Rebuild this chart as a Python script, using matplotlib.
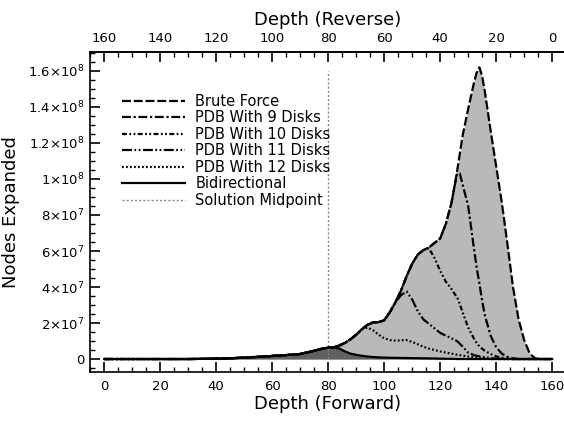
import numpy as np
import matplotlib
matplotlib.use("Agg")
import matplotlib.pyplot as plt
from matplotlib.ticker import MultipleLocator, FixedLocator, FuncFormatter

# search depth (forward)
depth = [0, 10, 20, 30, 40, 45, 50, 55, 60, 65, 70, 74, 78, 80, 82, 84, 86, 88, 90,
         92, 94, 96, 98, 100, 102, 104, 106, 108, 110, 112, 114, 116, 118, 120,
         122, 124, 125, 126, 127, 128, 130, 132, 133, 134, 135, 136, 138, 140, 142, 144, 146, 148,
         150, 152, 154, 156, 160]
reverse_ticks = [0, 20, 40, 60, 80, 100, 120, 140, 160]

# nodes expanded, in millions
brute_force = [0, 0, 0, 0, 0.2, 0.4, 0.8, 1.2, 1.7, 2.2, 2.8, 4.2, 5.8, 6.3, 6.5, 7.5, 9, 11, 13.5,
               16.5, 19, 20.3, 20.5, 21.5, 26, 31.5, 38, 46, 53, 58, 60.5, 62, 64.5, 67,
               75, 86.5, 95, 104, 114, 124, 139, 153, 159, 162, 157, 148, 127, 107, 87, 64, 40, 22,
               10.5, 3, 0.3, 0, 0]
pdb9 = [0, 0, 0, 0, 0.2, 0.4, 0.8, 1.2, 1.7, 2.2, 2.8, 4.2, 5.8, 6.3, 6.5, 7.5, 9, 11, 13.5,
        16.5, 19, 20.3, 20.5, 21.5, 26, 31.5, 38, 46, 53, 58, 60.5, 62, 64.5, 67,
        75, 86.5, 95, 103, 103, 97, 85, 62, 51, 42, 32, 24, 13, 6.5, 3, 1.2, 0.4, 0,
        0, 0, 0, 0, 0]
pdb10 = [0, 0, 0, 0, 0.2, 0.4, 0.8, 1.2, 1.7, 2.2, 2.8, 4.2, 5.8, 6.3, 6.5, 7.5, 9, 11, 13.5,
         16.5, 19, 20.3, 20.5, 21.5, 26, 31.5, 38, 46, 53, 58, 60.5, 61.5, 56, 49,
         43, 39, 36.5, 34.5, 30.5, 26, 17.5, 11.5, 9, 7, 5.7, 4.5, 2.8, 1.5, 0.7, 0.2, 0, 0,
         0, 0, 0, 0, 0]
pdb11 = [0, 0, 0, 0, 0.2, 0.4, 0.8, 1.2, 1.7, 2.2, 2.8, 4.2, 5.8, 6.3, 6.5, 7.5, 9, 11, 13.5,
         16.5, 19, 20.3, 20.5, 21.5, 26, 31.5, 35.5, 37.5, 33, 26.5, 22, 19.5, 17, 14.5,
         13, 11.5, 10.7, 10, 8.5, 7, 3.5, 2.2, 1.8, 1.5, 1.2, 1, 0.5, 0.2, 0, 0, 0, 0,
         0, 0, 0, 0, 0]
pdb12 = [0, 0, 0, 0, 0.2, 0.4, 0.8, 1.2, 1.7, 2.2, 2.8, 4.2, 5.8, 6.3, 6.5, 7.5, 9, 11, 13.5,
         16.5, 17.5, 16, 13.5, 11.5, 10.5, 10.2, 10.4, 10.5, 9.5, 8.2, 6.8, 5.8, 5, 4.2,
         3.6, 3, 2.7, 2.4, 2.15, 1.9, 1.4, 1, 0.8, 0.6, 0.45, 0.3, 0, 0, 0, 0, 0, 0,
         0, 0, 0, 0, 0]
bidirectional = [0, 0, 0, 0, 0.2, 0.4, 0.8, 1.2, 1.7, 2.2, 2.8, 4.2, 5.8, 6.3, 6.4, 5.8, 4.2, 3, 2.3,
                 1.8, 1.4, 1.1, 0.9, 0.8, 0.7, 0.65, 0.6, 0.55, 0.5, 0.45, 0.4, 0.35, 0.3, 0.2,
                 0.15, 0.1, 0.05, 0, 0, 0, 0, 0, 0, 0, 0, 0, 0, 0, 0, 0, 0, 0,
                 0, 0, 0, 0, 0]
midpoint = 80
midpoint_top = 160  # millions

M = 1e6
x = np.array(depth)

plt.rcParams["font.family"] = ["DejaVu Sans"]
fig = plt.figure(figsize=(5.64, 4.22), dpi=100)
ax = fig.add_axes([0.16, 0.1185, 0.8404, 0.759])

ax.fill_between(x, np.array(brute_force) * M, color="#b9b9b9", lw=0, zorder=1)
ax.fill_between(x, np.array(bidirectional) * M, color="#606060", lw=0, zorder=2)

lw = 1.6
style = dict(color="black", lw=lw, dash_joinstyle="round", solid_joinstyle="round", zorder=3)
ax.plot(x, np.array(brute_force) * M, dashes=(4, 1.3), label="Brute Force", **style)
ax.plot(x, np.array(pdb9) * M, dashes=(4, 1.2, 1, 1.2), label="PDB With 9 Disks", **style)
ax.plot(x, np.array(pdb10) * M, dashes=(2.2, 1.1, 0.8, 1.1, 0.8, 1.1), label="PDB With 10 Disks", **style)
ax.plot(x, np.array(pdb11) * M, dashes=(4.5, 1.1, 0.8, 1.1, 0.8, 1.1), label="PDB With 11 Disks", **style)
ax.plot(x, np.array(pdb12) * M, dashes=(0.8, 1.0), label="PDB With 12 Disks", **style)
ax.plot(x, np.array(bidirectional) * M, color="black", lw=lw, solid_joinstyle="round",
        label="Bidirectional", zorder=4)
ax.plot([midpoint, midpoint], [0, midpoint_top * M], color="#888888", lw=1.0, dashes=(1.5, 1.5),
        label="Solution Midpoint", zorder=2)

ax.set_xlim(-5, 164.3)
ax.set_ylim(-7.2e6, 1.707e8)

ax.xaxis.set_major_locator(MultipleLocator(20))
ax.xaxis.set_minor_locator(MultipleLocator(5))
ax.yaxis.set_major_locator(MultipleLocator(2e7))
ax.yaxis.set_minor_locator(MultipleLocator(5e6))


def sci(v, pos):
    if abs(v) < 1:
        return "0"
    e = int(np.floor(np.log10(abs(v))))
    m = v / 10 ** e
    ms = ("%.1f" % m).rstrip("0").rstrip(".")
    return r"$%s{\times}10^{%d}$" % (ms, e)


ax.yaxis.set_major_formatter(FuncFormatter(sci))

ax.spines["right"].set_visible(False)
for s in ["left", "bottom", "top"]:
    ax.spines[s].set_linewidth(1.2)
ax.tick_params(which="major", direction="in", length=7, width=1.2, labelsize=9.5)
ax.tick_params(which="minor", direction="in", length=3.5, width=1.0)
ax.tick_params(axis="x", pad=6)
ax.tick_params(axis="y", pad=4)

top = ax.secondary_xaxis("top", functions=(lambda v: 160 - v, lambda v: 160 - v))
top.xaxis.set_major_locator(FixedLocator(reverse_ticks))
top.xaxis.set_minor_locator(MultipleLocator(5))
top.tick_params(which="major", direction="in", length=7, width=1.2, labelsize=9.5, pad=5)
top.tick_params(which="minor", direction="in", length=3.5, width=1.0)
top.spines["top"].set_linewidth(1.2)
top.set_xlabel("Depth (Reverse)", fontsize=13, labelpad=5)

ax.set_xlabel("Depth (Forward)", fontsize=13, labelpad=1)
ax.set_ylabel("Nodes Expanded", fontsize=13, labelpad=6)

ax.legend(loc="upper left", bbox_to_anchor=(0.0675, 0.868), frameon=False, fontsize=10.5,
          handlelength=4.3, handletextpad=0.7, labelspacing=0.1, borderaxespad=0, borderpad=0)

fig.savefig("out.png", dpi=100)
